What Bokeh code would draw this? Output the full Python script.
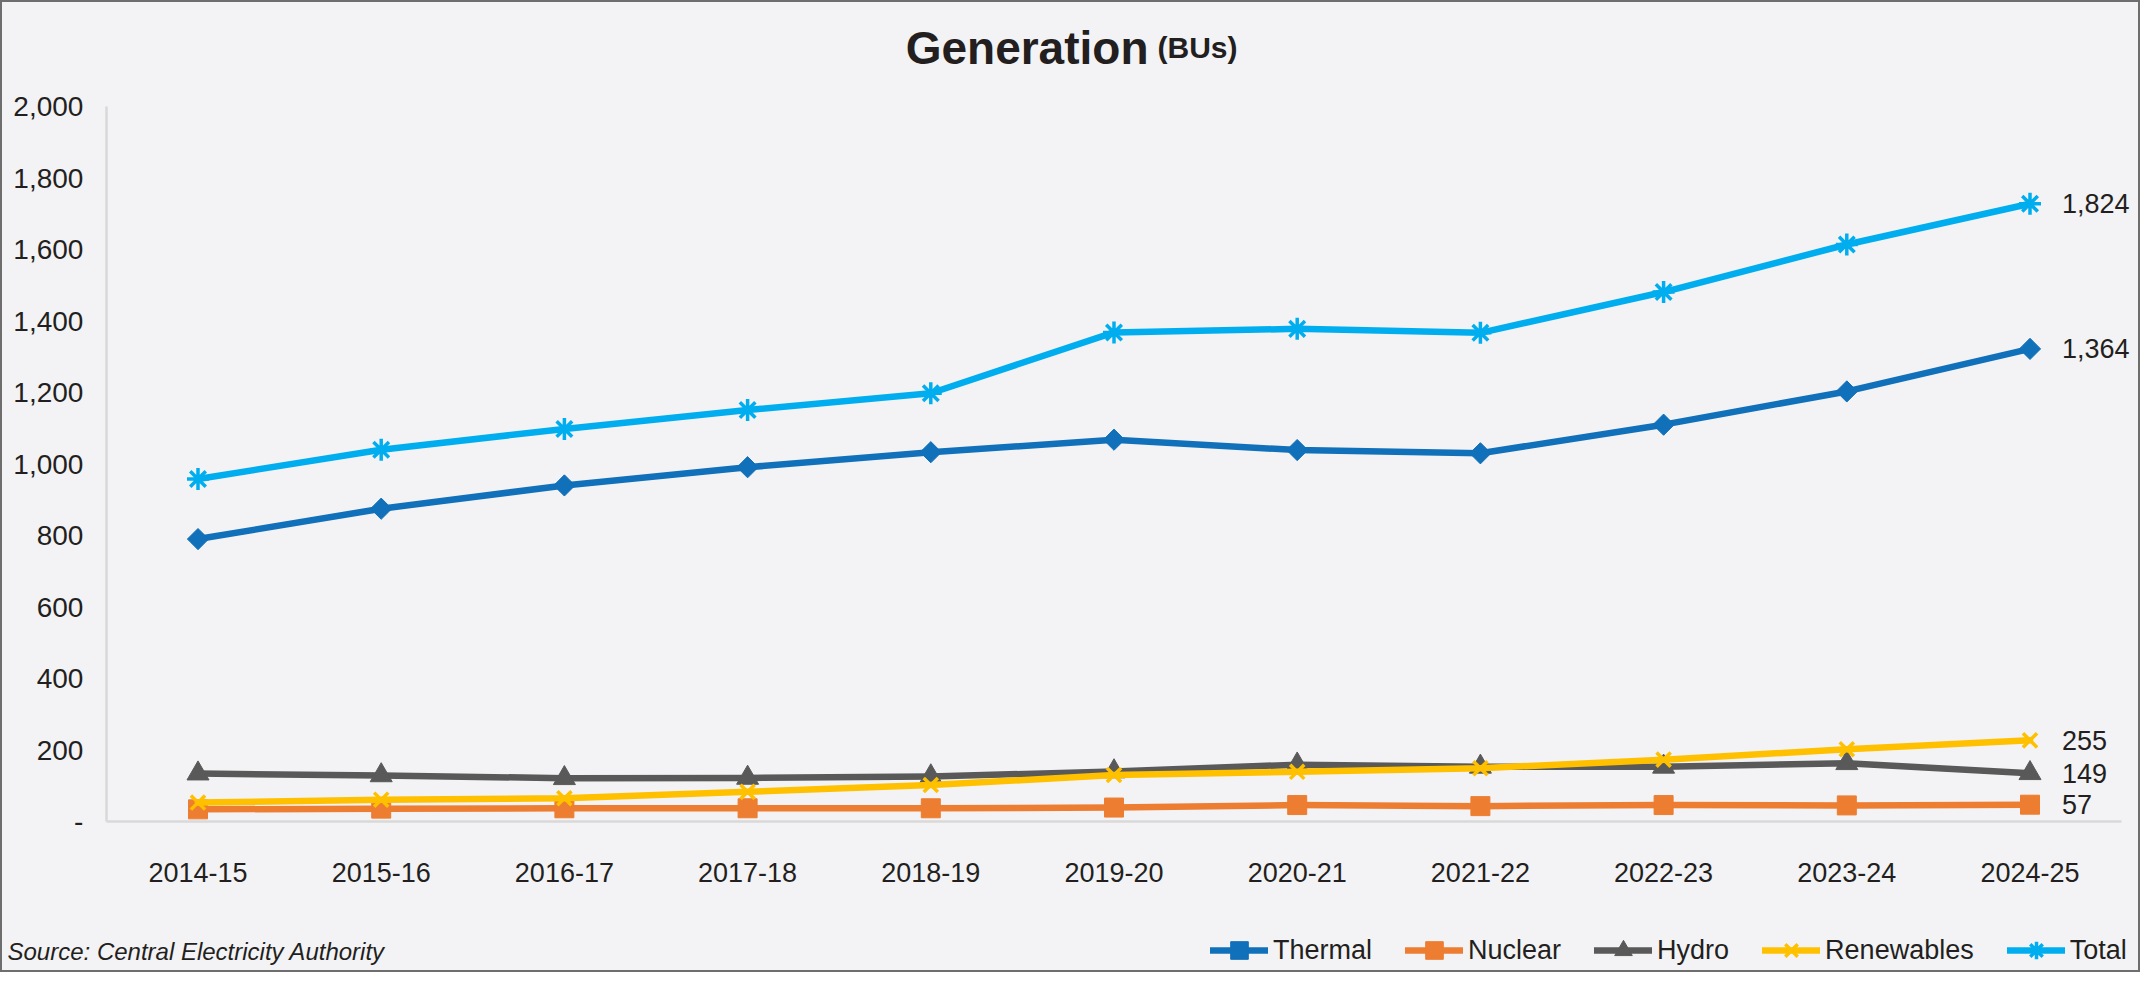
import numpy as np
from bokeh.plotting import figure
from bokeh.models import Range1d, FixedTicker, Label, Legend, LegendItem, ColumnDataSource
from bokeh.core.properties import value
from bokeh.embed import file_html
from bokeh.resources import INLINE

# ---------------- data ----------------
years = ["2014-15", "2015-16", "2016-17", "2017-18", "2018-19", "2019-20",
         "2020-21", "2021-22", "2022-23", "2023-24", "2024-25"]
thermal = [790, 875, 940, 991, 1033, 1068, 1039, 1030, 1110, 1203, 1322]
nuclear = [34, 36, 37, 37, 37, 39, 46, 43, 46, 45, 47]
hydro = [134, 129, 121, 122, 126, 140, 159, 153, 153, 163, 135]
renewables = [53, 61, 65, 83, 102, 130, 139, 149, 173, 202, 227]
total = [958, 1040, 1098, 1151, 1198, 1368, 1378, 1367, 1481, 1614, 1728]

series_names = ["Thermal", "Nuclear", "Hydro", "Renewables", "Total"]
end_labels = ["1,364", "57", "149", "255", "1,824"]

y_ticks = [0, 200, 400, 600, 800, 1000, 1200, 1400, 1600, 1800, 2000]
y_tick_labels = ["-", "200", "400", "600", "800", "1,000", "1,200", "1,400", "1,600", "1,800", "2,000"]

title_main = "Generation"
title_unit = "(BUs)"
source_text = "Source: Central Electricity Authority"

# ---------------- layout / style ----------------
FONT = "Liberation Sans"
BG = "#F3F3F5"
TXT = "#231F20"
AXIS_C = "#D9D9D9"
colors = ["#1170BA", "#ED7D31", "#595959", "#FFC000", "#00AEEF"]
markers = ["square", "square", "triangle", "x", "asterisk"]
msizes = [15, 19, 22, 20, 22]
angles = [np.pi / 4, 0, 0, 0, 0]
mline = [1, 1, 1, 3.5, 3.5]

W, H = 2140, 972
X0_PX, STEP_PX = 197.5, 183.2          # centre of first category, category spacing
Y0_PX, Y_PX_PER = 821.0, 715.0 / 2000  # pixel row of value 0, pixels per unit
x_start = -X0_PX / STEP_PX
x_end = (W - X0_PX) / STEP_PX
y_start = -(H - Y0_PX) / Y_PX_PER
y_end = Y0_PX / Y_PX_PER

xs = list(range(len(years)))

p = figure(
    x_range=Range1d(x_start, x_end),
    y_range=Range1d(y_start, y_end),
    width=W, height=H,
    min_border_left=0, min_border_right=0, min_border_top=0, min_border_bottom=0,
    output_backend="svg", toolbar_location=None,
    background_fill_color=BG, border_fill_color=BG,
)
p.outline_line_color = "#6E6E6E"
p.outline_line_width = 3
p.xgrid.grid_line_color = None
p.ygrid.grid_line_color = None

for ax in (p.xaxis, p.yaxis):
    ax.major_tick_line_color = None
    ax.minor_tick_line_color = None
    ax.major_tick_out = 0
    ax.major_tick_in = 0
    ax.minor_tick_out = 0
    ax.minor_tick_in = 0
    ax.axis_line_color = AXIS_C
    ax.axis_line_width = 2.5
    ax.major_label_text_font = FONT
    ax.major_label_text_color = TXT

p.xaxis.fixed_location = 0
p.xaxis.bounds = (-0.5, len(years) - 0.5)
p.xaxis.ticker = FixedTicker(ticks=xs)
p.xaxis.major_label_overrides = {i: y for i, y in zip(xs, years)}
p.xaxis.major_label_standoff = 41
p.xaxis.major_label_text_font_size = "27px"

p.yaxis.fixed_location = -0.5
p.yaxis.bounds = (0, 2000)
p.yaxis.ticker = FixedTicker(ticks=y_ticks)
p.yaxis.major_label_overrides = {t: l for t, l in zip(y_ticks, y_tick_labels)}
p.yaxis.major_label_standoff = 23
p.yaxis.major_label_text_font_size = "28px"

all_series = [thermal, nuclear, hydro, renewables, total]
items = []
for name, vals, col, mk, ms, ang, mlw in zip(series_names, all_series, colors, markers, msizes, angles, mline):
    src = ColumnDataSource(dict(x=xs, y=vals))
    r1 = p.line("x", "y", source=src, line_color=col, line_width=6.5, line_join="round", line_cap="round")
    r2 = p.scatter("x", "y", source=src, marker=mk, size=ms, angle=ang,
                   fill_color=col, line_color=col, line_width=mlw)
    items.append(LegendItem(label=name, renderers=[r1, r2]))

# end-of-line value labels
lab_src = ColumnDataSource(dict(
    x=[xs[-1]] * len(all_series),
    y=[s[-1] for s in all_series],
    t=end_labels,
))
p.text("x", "y", text="t", source=lab_src, x_offset=32, text_baseline="middle",
       text_align="left", text_font=value(FONT), text_font_size="27px", text_color=TXT)

legend = Legend(items=items, orientation="horizontal", location=(1210, 0),
                glyph_width=58, glyph_height=44, label_height=44, label_standoff=5,
                spacing=33, padding=0, margin=0, border_line_color=None,
                background_fill_alpha=0, label_text_font=FONT,
                label_text_font_size="27px", label_text_color=TXT)
p.add_layout(legend)

# title and source (screen units relative to the frame, origin bottom-left)
p.add_layout(Label(x=1148, y=H - 47, x_units="screen", y_units="screen", text=title_main,
                   text_align="right", text_baseline="alphabetic", text_font=FONT,
                   text_font_size="46px", text_font_style="bold", text_color=TXT))
p.add_layout(Label(x=1157, y=H - 47, x_units="screen", y_units="screen", text=title_unit,
                   text_align="left", text_baseline="alphabetic", text_font=FONT,
                   text_font_size="30px", text_font_style="bold", text_color=TXT))
p.add_layout(Label(x=7, y=H - 951, x_units="screen", y_units="screen", text=source_text,
                   text_align="left", text_baseline="middle", text_font=FONT,
                   text_font_size="24px", text_font_style="italic", text_color=TXT))

open("out.html", "w").write(file_html(p, INLINE))
